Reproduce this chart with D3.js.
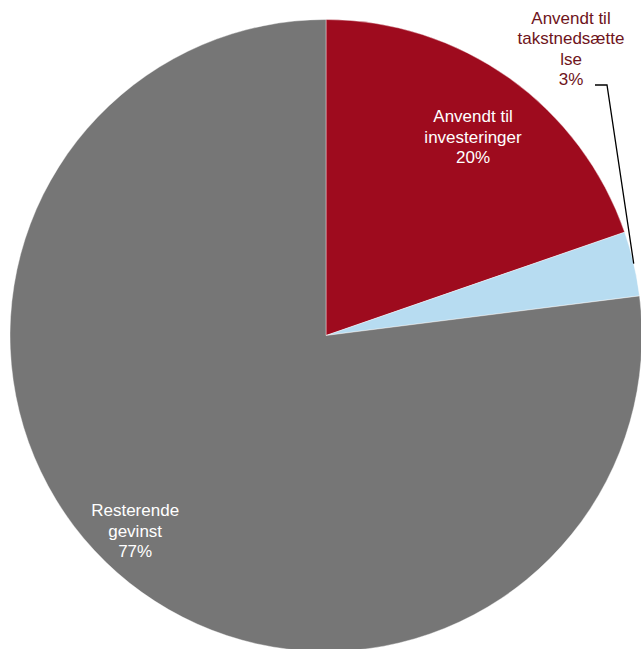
<!DOCTYPE html>
<html>
<head>
<meta charset="utf-8">
<script src="https://cdn.jsdelivr.net/npm/d3@7"></script>
<style>
  body { margin: 0; background: #fff; }
  svg { display: block; }
  text { font-family: "Liberation Sans", Arial, sans-serif; font-size: 17px; }
</style>
</head>
<body>
<div class="container"></div>
<script>
// slice data, clockwise from 12 o'clock
const categories = [
  ["Anvendt til", "investeringer"],
  ["Anvendt til", "takstnedsætte", "lse"],
  ["Resterende", "gevinst"]
];
const values = [19.7, 3.3, 77];
const colors = ["#9e0b1e", "#b7dcf1", "#767676"];

const width = 641, height = 649;
const cx = 326, cy = 335.5, radius = 316;

const svg = d3.select(".container")
              .append("svg")
              .attr("width", width)
              .attr("height", height);

const g = svg.append("g")
             .attr("transform", `translate(${cx},${cy})`);

const pie = d3.pie()
              .sort(null)
              .value(d => d);

const arcs = pie(values);

const arc = d3.arc()
              .innerRadius(0)
              .outerRadius(radius);

g.selectAll("path")
 .data(arcs)
 .enter()
 .append("path")
 .attr("d", arc)
 .attr("fill", (d, i) => colors[i])
 .attr("stroke", "#fff")
 .attr("stroke-width", 0.4);

// point on the middle angle of a slice
function polar(d, r) {
  const a = (d.startAngle + d.endAngle) / 2;
  return [r * Math.sin(a), -r * Math.cos(a)];
}

const pct = v => Math.round(v) + "%";

// inside labels
const inside = [
  { i: 0, r: 250, dx: 2, dy: 5 },
  { i: 2, r: 275, dx: -9, dy: -11 }
];

inside.forEach(l => {
  const d = arcs[l.i];
  const [x, y] = polar(d, l.r);
  const lines = categories[l.i].concat([pct(values[l.i])]);
  const t = g.append("text")
             .attr("text-anchor", "middle")
             .attr("fill", "#fff");
  lines.forEach((s, k) => {
    t.append("tspan")
     .attr("x", x + l.dx)
     .attr("y", y + l.dy + (k - (lines.length - 1) / 2) * 20.5 + 6)
     .text(s);
  });
});

// outside label + leader for the small slice
const small = arcs[1];
const [ex, ey] = polar(small, radius);
const lx = 571 - cx, ly = 85 - cy;
const outLines = categories[1].concat([pct(values[1])]);
const ot = g.append("text")
            .attr("text-anchor", "middle")
            .attr("fill", "#6e1420");
outLines.forEach((s, k) => {
  ot.append("tspan")
    .attr("x", lx)
    .attr("y", ly - (outLines.length - 1 - k) * 20.3)
    .text(s);
});

g.append("polyline")
 .attr("points", [[lx + 24, ly], [lx + 36, ly], [ex, ey]].map(p => p.join(",")).join(" "))
 .attr("fill", "none")
 .attr("stroke", "#000")
 .attr("stroke-width", 1.3);
</script>
</body>
</html>
